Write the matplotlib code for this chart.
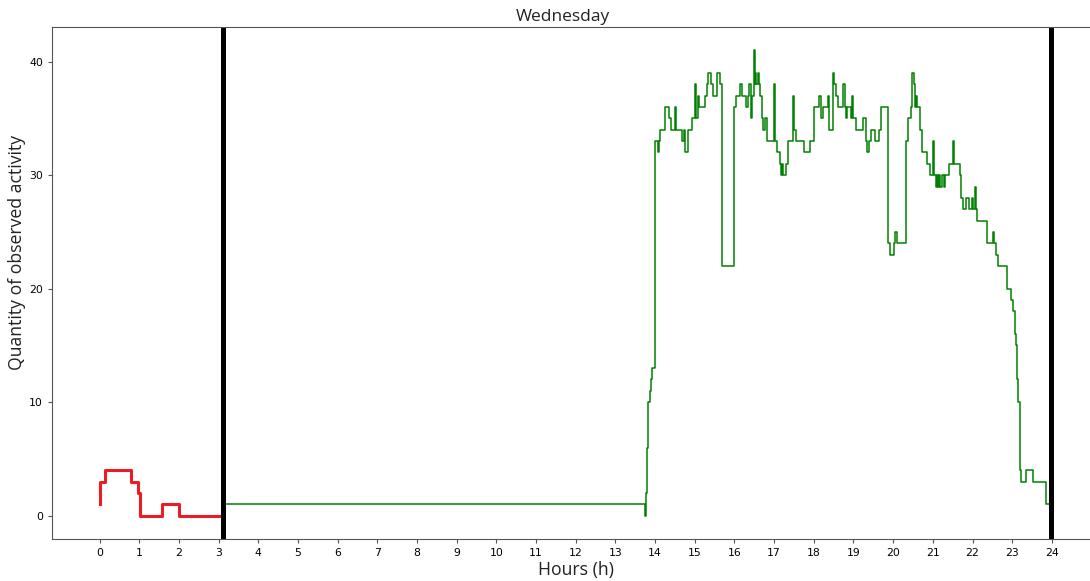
import matplotlib
matplotlib.use("Agg")
import matplotlib.pyplot as plt

# activity before the first marker (hours, count)
red_hours = [0.00, 0.02, 0.14, 0.79, 0.96, 1.02, 1.56, 2.00, 3.10]
red_values = [1, 3, 4, 3, 2, 0, 1, 0, 0]

# activity for the rest of the day (hours, count)
green_hours = [3.10, 3.13, 13.74, 13.78, 13.79, 13.81, 13.83, 13.86, 13.89, 13.93,
               13.99, 14.07, 14.09, 14.12, 14.24, 14.34, 14.39, 14.49, 14.52, 14.68,
               14.72, 14.76, 14.83, 14.93, 15.00, 15.02, 15.07, 15.11, 15.25, 15.32,
               15.34, 15.42, 15.45, 15.55, 15.63, 15.69, 15.99, 16.05, 16.13, 16.18,
               16.30, 16.34, 16.37, 16.41, 16.45, 16.49, 16.51, 16.53, 16.55, 16.59,
               16.61, 16.64, 16.70, 16.72, 16.78, 16.81, 17.00, 17.02, 17.06, 17.14,
               17.17, 17.20, 17.22, 17.31, 17.35, 17.48, 17.50, 17.54, 17.75, 17.90,
               18.00, 18.13, 18.19, 18.23, 18.36, 18.38, 18.49, 18.51, 18.55, 18.61,
               18.74, 18.78, 18.80, 18.84, 18.95, 18.97, 18.99, 19.07, 19.24, 19.31,
               19.34, 19.40, 19.44, 19.53, 19.65, 19.69, 19.86, 19.92, 20.01, 20.05,
               20.09, 20.32, 20.38, 20.45, 20.47, 20.52, 20.55, 20.58, 20.60, 20.68,
               20.72, 20.86, 20.94, 21.00, 21.03, 21.07, 21.10, 21.13, 21.16, 21.19,
               21.24, 21.28, 21.31, 21.41, 21.50, 21.53, 21.69, 21.71, 21.75, 21.84,
               21.90, 21.99, 22.02, 22.07, 22.09, 22.11, 22.37, 22.51, 22.55, 22.59,
               22.63, 22.88, 22.98, 23.01, 23.06, 23.08, 23.10, 23.12, 23.13, 23.15,
               23.19, 23.20, 23.23, 23.34, 23.52, 23.85, 23.96, 23.98]
green_values = [0, 1, 0, 2, 6, 9, 10, 11, 12, 13,
                33, 32, 33, 34, 36, 35, 34, 36, 34, 33,
                34, 32, 34, 35, 38, 35, 37, 36, 37, 38,
                39, 38, 37, 39, 38, 22, 36, 37, 38, 37,
                36, 37, 38, 35, 37, 41, 38, 39, 38, 39,
                38, 37, 35, 34, 35, 33, 38, 33, 32, 31,
                30, 31, 30, 31, 33, 37, 34, 33, 32, 33,
                36, 37, 35, 36, 37, 34, 39, 38, 37, 36,
                38, 36, 35, 36, 35, 37, 35, 34, 35, 33,
                32, 33, 34, 33, 34, 36, 24, 23, 24, 25,
                24, 33, 35, 36, 39, 38, 36, 37, 36, 34,
                32, 31, 30, 33, 30, 29, 30, 29, 30, 29,
                30, 29, 30, 31, 33, 31, 30, 28, 27, 28,
                27, 28, 27, 29, 27, 26, 24, 25, 24, 23,
                22, 20, 19, 18, 17, 16, 15, 14, 12, 10,
                7, 4, 3, 4, 3, 1, 0, 0]

# day boundaries
markers = [3.12, 23.97]

fig = plt.figure(figsize=(10.9, 5.81), dpi=100)
ax = fig.add_axes([0.0477, 0.0723, 0.961, 0.8812])

ax.plot(red_hours, red_values, drawstyle="steps-post", color="#ec1c24", linewidth=2.2)
ax.plot(green_hours, green_values, drawstyle="steps-post", color="green", linewidth=1.1)
for m in markers:
    ax.axvline(m, color="black", linewidth=3.6)

ax.set_xlim(-1.2, 25.2)
ax.set_ylim(-2.05, 43.05)
ax.set_xticks(range(0, 25))
ax.set_yticks([0, 10, 20, 30, 40])
ax.tick_params(labelsize=7.8, length=3, color="#555555")
ax.spines["right"].set_visible(False)
for side in ["left", "top", "bottom"]:
    ax.spines[side].set_color("#555555")

ax.set_title("Wednesday", fontsize=12.5, family="Open Sans", color="#222222", pad=4, x=0.488)
ax.set_xlabel("Hours (h)", fontsize=12.7, family="Open Sans", color="#222222", labelpad=2)
ax.set_ylabel("Quantity of observed activity", fontsize=12.7, family="Open Sans", color="#222222")
ax.yaxis.set_label_coords(-0.0245, 0.56)

fig.savefig("out.png", dpi=100)
